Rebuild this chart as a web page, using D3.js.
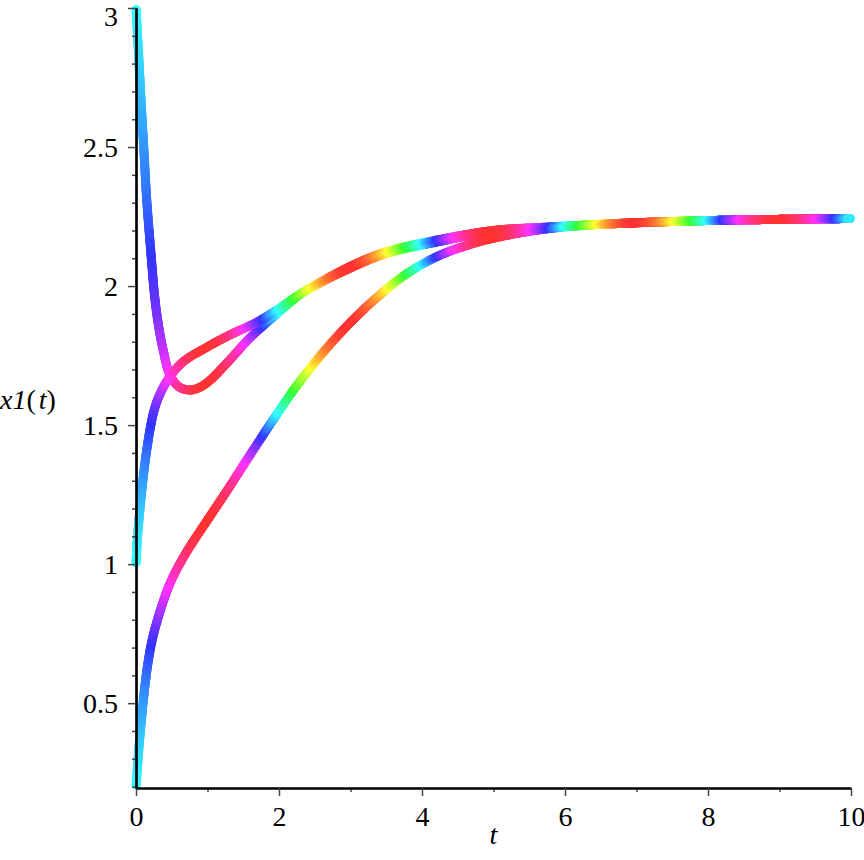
<!DOCTYPE html>
<html>
<head>
<meta charset="utf-8">
<script src="https://cdn.jsdelivr.net/npm/d3@7"></script>
<style>
  html, body { margin: 0; padding: 0; background: #ffffff; }
  svg { display: block; }
</style>
</head>
<body>
<svg id="chart" width="864" height="860"></svg>
<script>
// ---------------- data ----------------
const curveA_t = [0, 0.035, 0.07, 0.11, 0.15, 0.205, 0.266, 0.32, 0.38, 0.475, 0.6, 0.755, 0.9, 1.03, 1.31, 1.59, 1.87, 2.15, 2.34, 2.99, 3.5, 4.2, 5.0, 5.75, 6.5, 7.6, 8.5, 10];
const curveA_y = [3.0, 2.84, 2.67, 2.49, 2.31, 2.13, 1.95, 1.85, 1.77, 1.68, 1.638, 1.626, 1.637, 1.66, 1.734, 1.813, 1.878, 1.94, 1.978, 2.064, 2.117, 2.158, 2.196, 2.21, 2.222, 2.233, 2.238, 2.243];

const curveB_t = [0, 0.02, 0.056, 0.1, 0.15, 0.2, 0.25, 0.3, 0.38, 0.475, 0.66, 0.99, 1.31, 1.69, 1.97, 2.29, 2.99, 3.5, 4.2, 5.0, 5.75, 6.5, 7.6, 8.5, 10];
const curveB_y = [1.0, 1.095, 1.2, 1.31, 1.41, 1.49, 1.55, 1.59, 1.635, 1.675, 1.728, 1.78, 1.824, 1.87, 1.914, 1.97, 2.07, 2.123, 2.165, 2.20, 2.212, 2.222, 2.233, 2.238, 2.243];

const curveC_t = [0, 0.025, 0.056, 0.126, 0.18, 0.242, 0.38, 0.5, 0.71, 0.99, 1.3, 1.6, 1.9, 2.2, 2.5, 2.8, 3.1, 3.4, 3.75, 4.2, 4.7, 5.1, 5.75, 6.5, 7.6, 8.5, 10];
const curveC_y = [0.2, 0.285, 0.385, 0.565, 0.665, 0.745, 0.865, 0.945, 1.045, 1.155, 1.275, 1.395, 1.512, 1.625, 1.725, 1.815, 1.895, 1.966, 2.038, 2.105, 2.152, 2.178, 2.206, 2.222, 2.233, 2.238, 2.243];

const xMajorTicks = [0, 2, 4, 6, 8, 10];
const xMinorTicks = [1, 3, 5, 7, 9];
const yMajorTicks = [0.5, 1, 1.5, 2, 2.5, 3];
const yTickLabels = ["0.5", "1", "1.5", "2", "2.5", "3"];
const yMinorTicks = [0.2,0.3,0.4,0.6,0.7,0.8,0.9,1.1,1.2,1.3,1.4,1.6,1.7,1.8,1.9,2.1,2.2,2.3,2.4,2.6,2.7,2.8,2.9];

const xLabel = "t";

// ---------------- layout ----------------
const svg = d3.select("#chart");
const x = d3.scaleLinear().domain([0, 10]).range([136, 851]);
const y = d3.scaleLinear().domain([0.195, 3]).range([788, 8]);

const FONT_SIZE = 28;
const SERIF = "Liberation Serif";

function serif(sel) {
  sel.attr("font-family", SERIF).style("font-family", SERIF);
}

// colour along t: hue swings cyan -> red -> cyan -> red (via yellow/green) ...
function colourAt(t) {
  const hue = 180 + 180 * Math.sin(Math.PI * t / 2);
  const c = d3.hsl(hue, 1, 0.5).rgb();
  const k = 0.2; // washed with white
  return d3.rgb(c.r + (255 - c.r) * k, c.g + (255 - c.g) * k, c.b + (255 - c.b) * k).formatHex();
}

const lineGen = d3.line()
  .x(d => x(d[0]))
  .y(d => y(d[1]))
  .curve(d3.curveCatmullRom.alpha(0.5));

const plotG = svg.append("g");

function drawCurve(ts, ys) {
  const pts = ts.map((t, i) => [t, ys[i]]);
  const path = plotG.append("path").attr("d", lineGen(pts)).attr("fill", "none").attr("stroke", "none");
  const node = path.node();
  const L = node.getTotalLength();
  const step = 1.5;
  const n = Math.ceil(L / step);
  const samples = [];
  for (let i = 0; i <= n; i++) {
    const p = node.getPointAtLength(Math.min(L, i * step));
    samples.push([p.x, p.y]);
  }
  const segG = plotG.append("g");
  for (let i = 0; i < samples.length - 1; i++) {
    const a = samples[i], b = samples[i + 1];
    const tm = x.invert((a[0] + b[0]) / 2);
    segG.append("line")
      .attr("x1", a[0]).attr("y1", a[1])
      .attr("x2", b[0]).attr("y2", b[1])
      .attr("stroke", colourAt(tm))
      .attr("stroke-width", 9)
      .attr("stroke-linecap", (i === 0 || i === samples.length - 2) ? "butt" : "round");
  }
  path.remove();
}

drawCurve(curveA_t, curveA_y);
drawCurve(curveB_t, curveB_y);
drawCurve(curveC_t, curveC_y);

// ---------------- axes ----------------
const xAxisMajor = d3.axisBottom(x).tickValues(xMajorTicks).tickSize(8).tickSizeOuter(0).tickPadding(10).tickFormat(d3.format("d"));
const xAxisMinor = d3.axisBottom(x).tickValues(xMinorTicks).tickSize(4).tickSizeOuter(0).tickFormat("");
const yAxisMajor = d3.axisLeft(y).tickValues(yMajorTicks).tickSize(8).tickSizeOuter(0).tickPadding(10).tickFormat((d, i) => yTickLabels[i]);
const yAxisMinor = d3.axisLeft(y).tickValues(yMinorTicks).tickSize(4).tickSizeOuter(0).tickFormat("");

function styleAxis(g) {
  g.call(serif).attr("font-size", FONT_SIZE);
  g.select(".domain").attr("stroke", "#000").attr("stroke-width", 2.2);
  g.selectAll(".tick line").attr("stroke", "#444").attr("stroke-width", 1.5);
  g.selectAll(".tick text").attr("fill", "#000").call(serif).attr("font-size", FONT_SIZE);
}

svg.append("g").attr("transform", "translate(0,788)").call(xAxisMinor).call(styleAxis);
svg.append("g").attr("transform", "translate(0,788)").call(xAxisMajor).call(styleAxis);
svg.append("g").attr("transform", "translate(136,0)").call(yAxisMinor).call(styleAxis);
const yg = svg.append("g").attr("transform", "translate(136,0)").call(yAxisMajor).call(styleAxis);
// keep the top label inside the picture
yg.selectAll(".tick text").filter(d => d === 3).attr("dy", "0.62em");

// axis titles
svg.append("text")
  .call(serif)
  .attr("x", (x(0) + x(10)) / 2)
  .attr("y", 844)
  .attr("text-anchor", "middle")
  .attr("font-style", "italic")
  .attr("font-size", FONT_SIZE)
  .text(xLabel);

const yl = svg.append("text")
  .call(serif)
  .attr("x", 0)
  .attr("y", 409)
  .attr("font-size", FONT_SIZE);
yl.append("tspan").attr("font-style", "italic").text("x1");
yl.append("tspan").text("(");
yl.append("tspan").attr("font-style", "italic").attr("dx", 3).text("t");
yl.append("tspan").text(")");
</script>
</body>
</html>
